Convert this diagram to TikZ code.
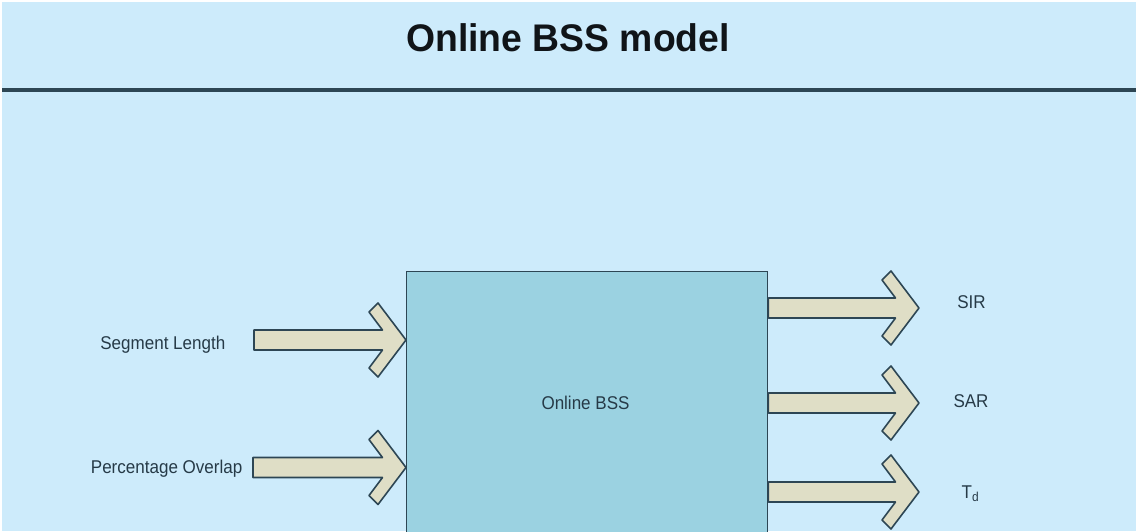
\documentclass[tikz,border=0pt]{standalone}
\usepackage{fontspec}
\setmainfont{Liberation Sans}
\newfontfamily\lblfont{Liberation Sans}[FakeStretch=0.92]
\newfontfamily\ttlfont{Liberation Sans}[FakeStretch=0.97]
\usetikzlibrary{calc}

\definecolor{pagebg}{HTML}{CDEBFB}
\definecolor{blockfill}{HTML}{9BD2E1}
\definecolor{arrowfill}{HTML}{DFDEC6}
\definecolor{edgecol}{HTML}{2D4654}
\definecolor{lbltext}{HTML}{263A47}
\definecolor{ttltext}{HTML}{101418}

\tikzset{
  lbl/.style={font=\lblfont\fontsize{18.5}{22}\selectfont, text=lbltext, inner sep=0pt},
  ttl/.style={font=\ttlfont\bfseries\fontsize{38.5}{42}\selectfont, text=ttltext, inner sep=0pt},
  blockarr/.style={draw=edgecol, fill=arrowfill, line width=1.6pt, line join=round},
  bssbox/.style={draw=edgecol, fill=blockfill, line width=1.4pt, inner sep=0pt},
}

% block arrow: shaft starts at #1, chevron tip at #2 (horizontal)
\newcommand\blockarrow[2]{%
  \draw[blockarr] let \p1=(#1), \p2=(#2) in
    (\x1,\y2-10pt) -- (\x2-23.5pt,\y2-10pt) -- (\x2-37pt,\y2-28pt)
    -- (\x2-28pt,\y2-37pt) -- (\x2,\y2) -- (\x2-28pt,\y2+37pt)
    -- (\x2-37pt,\y2+28pt) -- (\x2-23.5pt,\y2+10pt) -- (\x1,\y2+10pt) -- cycle;}

\begin{document}
\begin{tikzpicture}[x=1pt, y=-1pt]
  \useasboundingbox (0,0) rectangle (1136,531);
  \clip (0,0) rectangle (1136,531);
  \fill[white] (0,0) rectangle (1136,531);
  \fill[pagebg] (2,2) rectangle (1136,531);

  % header
  \node[ttl, anchor=base] (title) at (568,51.7) {Online BSS model};
  \draw[edgecol, line width=4pt] (2,89.5) -- (1136,89.5);

  % central block (runs past the lower edge)
  \node[bssbox, anchor=north west, minimum width=361pt, minimum height=300pt] (bss) at (406,271) {};
  \node[lbl, anchor=base] (bsstext) at (585.5,409) {Online BSS};

  % inputs
  \node[lbl, anchor=base east] (seg) at (225.5,349.5) {Segment Length};
  \node[lbl, anchor=base east] (ovl) at (242.5,473.5) {Percentage Overlap};
  \coordinate (segin) at (254,340);
  \coordinate (ovlin) at (253,467.5);
  \blockarrow{segin}{bss.west |- segin}
  \blockarrow{ovlin}{bss.west |- ovlin}

  % outputs
  \node[lbl, anchor=base] (sir) at (971.5,308) {SIR};
  \node[lbl, anchor=base] (sar) at (971,407) {SAR};
  \node[lbl, anchor=base] (td) at (970.5,498.5) {T\textsubscript{d}};
  \coordinate (sirtip) at (919,308);
  \coordinate (sartip) at (919,403);
  \coordinate (tdtip) at (919,492);
  \blockarrow{bss.east |- sirtip}{sirtip}
  \blockarrow{bss.east |- sartip}{sartip}
  \blockarrow{bss.east |- tdtip}{tdtip}
\end{tikzpicture}
\end{document}
